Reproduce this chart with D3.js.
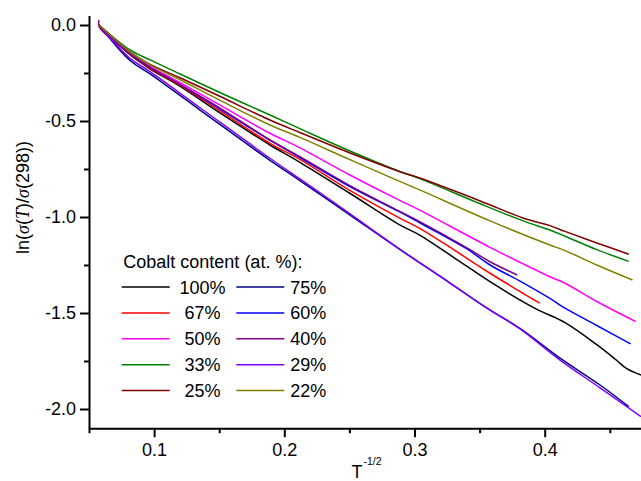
<!DOCTYPE html>
<html>
<head>
<meta charset="utf-8">
<script src="https://cdn.jsdelivr.net/npm/d3@7"></script>
<style>
  html, body { margin: 0; padding: 0; background: #fff; }
  svg { display: block; }
  text { font-family: Arial, "Liberation Sans", sans-serif; }
</style>
</head>
<body>
<svg id="chart" width="641" height="481"></svg>
<script>
// ---- data: [T^-1/2, ln(sigma(T)/sigma(298))] ----
const co100 = [[0.0577,0],[0.0815,-0.155],[0.0969,-0.228],[0.12,-0.32],[0.15,-0.455],[0.189,-0.625],[0.212,-0.715],[0.25,-0.875],[0.289,-1.042],[0.304,-1.094],[0.33,-1.21],[0.358,-1.337],[0.3926,-1.476],[0.4156,-1.55],[0.44,-1.665],[0.455,-1.745],[0.463,-1.79],[0.474,-1.823]];
const co75 = [[0.0577,0],[0.0815,-0.185],[0.0969,-0.255],[0.1353,-0.443],[0.189,-0.705],[0.212,-0.81],[0.2505,-0.99],[0.2889,-1.17],[0.3273,-1.344],[0.356,-1.476],[0.381,-1.58],[0.4118,-1.735],[0.4425,-1.875],[0.4646,-1.988]];
const co67 = [[0.0577,0],[0.0815,-0.15],[0.0969,-0.224],[0.12,-0.315],[0.15,-0.445],[0.189,-0.616],[0.212,-0.70],[0.25,-0.86],[0.289,-1.007],[0.304,-1.059],[0.33,-1.17],[0.358,-1.293],[0.3962,-1.449]];
const co60 = [[0.0577,0],[0.0815,-0.15],[0.0969,-0.22],[0.12,-0.31],[0.15,-0.435],[0.189,-0.60],[0.212,-0.69],[0.25,-0.84],[0.289,-0.975],[0.304,-1.03],[0.34,-1.165],[0.358,-1.25],[0.38,-1.33],[0.404,-1.424],[0.4156,-1.475],[0.44,-1.565],[0.466,-1.661]];
const co50 = [[0.0577,0],[0.0815,-0.145],[0.0969,-0.215],[0.12,-0.30],[0.15,-0.415],[0.189,-0.564],[0.212,-0.64],[0.25,-0.78],[0.289,-0.915],[0.304,-0.964],[0.358,-1.158],[0.404,-1.311],[0.4156,-1.345],[0.44,-1.44],[0.47,-1.545]];
const co40 = [[0.0577,0.026],[0.0579,-0.01],[0.0815,-0.15],[0.0969,-0.22],[0.12,-0.31],[0.15,-0.43],[0.189,-0.599],[0.212,-0.686],[0.25,-0.835],[0.289,-0.972],[0.304,-1.024],[0.34,-1.16],[0.358,-1.233],[0.3789,-1.302]];
const co33 = [[0.0577,0],[0.0815,-0.13],[0.0969,-0.182],[0.12,-0.255],[0.15,-0.35],[0.189,-0.469],[0.212,-0.54],[0.25,-0.655],[0.289,-0.764],[0.304,-0.80],[0.35,-0.93],[0.3833,-1.02],[0.404,-1.068],[0.4156,-1.10],[0.44,-1.17],[0.4646,-1.231]];
const co29 = [[0.0577,0],[0.0815,-0.174],[0.0969,-0.243],[0.1353,-0.431],[0.189,-0.694],[0.212,-0.802],[0.2505,-0.984],[0.2889,-1.168],[0.3273,-1.344],[0.356,-1.476],[0.381,-1.583],[0.4118,-1.745],[0.4425,-1.89],[0.474,-2.04]];
const co25 = [[0.0577,0],[0.0815,-0.14],[0.0969,-0.205],[0.12,-0.275],[0.15,-0.37],[0.189,-0.495],[0.212,-0.56],[0.25,-0.665],[0.289,-0.764],[0.304,-0.797],[0.35,-0.915],[0.3833,-1.005],[0.404,-1.045],[0.4156,-1.075],[0.44,-1.135],[0.4646,-1.194]];
const co22 = [[0.0577,0],[0.0815,-0.14],[0.0969,-0.208],[0.12,-0.285],[0.15,-0.39],[0.189,-0.521],[0.212,-0.585],[0.25,-0.70],[0.289,-0.816],[0.304,-0.859],[0.358,-1.02],[0.404,-1.146],[0.4156,-1.175],[0.44,-1.25],[0.4674,-1.328]];

const seriesNames = ["100%","75%","67%","60%","50%","40%","33%","29%","25%","22%"];
const seriesData = [co100, co75, co67, co60, co50, co40, co33, co29, co25, co22];
const seriesColors = ["#000000","#000080","#ff0000","#0000ff","#ff00ff","#800080","#008000","#8000ff","#800000","#808000"];

const xMajor = [0.1, 0.2, 0.3, 0.4];
const xMinor = [0.05, 0.15, 0.25, 0.35, 0.45];
const yMajor = [0.0, -0.5, -1.0, -1.5, -2.0];
const yMinor = [-0.25, -0.75, -1.25, -1.75];

// ---- layout ----
const svg = d3.select("#chart");
const x = d3.scaleLinear().domain([0.05, 0.48]).range([89, 89 + 0.43 * 1302]);
const y = d3.scaleLinear().domain([-2.1, 0.05]).range([25 + 2.1 * 192, 25 - 0.05 * 192]);
const fmt = v => v.toFixed(1);

// lines
const line = d3.line().x(d => x(d[0])).y(d => y(d[1])).curve(d3.curveCatmullRom.alpha(0.5));
svg.append("g").selectAll("path").data(seriesData).join("path")
  .attr("d", line)
  .attr("fill", "none")
  .attr("stroke", (d, i) => seriesColors[i])
  .attr("stroke-width", 1.5)
  .attr("stroke-linejoin", "round");

// axes
const xAxisY = y(-2.1);
const gx = svg.append("g").attr("transform", `translate(0,${xAxisY})`)
  .call(d3.axisBottom(x).tickValues(xMajor).tickFormat(fmt).tickSize(9).tickSizeOuter(0).tickPadding(6));
const gxm = svg.append("g").attr("transform", `translate(0,${xAxisY})`)
  .call(d3.axisBottom(x).tickValues(xMinor).tickFormat("").tickSize(5).tickSizeOuter(0));
gxm.select(".domain").remove();

const gy = svg.append("g").attr("transform", `translate(${x(0.05)},0)`)
  .call(d3.axisLeft(y).tickValues(yMajor).tickFormat(fmt).tickSize(9).tickSizeOuter(0).tickPadding(4));
const gym = svg.append("g").attr("transform", `translate(${x(0.05)},0)`)
  .call(d3.axisLeft(y).tickValues(yMinor).tickFormat("").tickSize(5).tickSizeOuter(0));
gym.select(".domain").remove();

svg.selectAll(".domain, .tick line").attr("stroke", "#000").attr("stroke-width", 2);
svg.selectAll(".tick text").attr("font-size", 18).attr("fill", "#000")
  .attr("font-family", "Arial, 'Liberation Sans', sans-serif");

// x label
const xl = svg.append("text").attr("x", 351.5).attr("y", 477.5).attr("font-size", 18).attr("fill", "#000");
xl.append("tspan").text("T");
xl.append("tspan").attr("font-size", 10.5).attr("dy", -13).attr("dx", 1).text("-1/2");

// y label
const yl = svg.append("text").attr("transform", "translate(29,197.5) rotate(-90)")
  .attr("text-anchor", "middle").attr("font-size", 18).attr("fill", "#000");
yl.append("tspan").text("ln(");
yl.append("tspan").attr("font-family", "'Liberation Serif', 'DejaVu Serif', serif").attr("font-style", "italic").text("σ");
yl.append("tspan").text("(");
yl.append("tspan").attr("font-family", "'Liberation Serif', 'DejaVu Serif', serif").attr("font-style", "italic").text("T");
yl.append("tspan").text(")/");
yl.append("tspan").attr("font-family", "'Liberation Serif', 'DejaVu Serif', serif").attr("font-style", "italic").text("σ");
yl.append("tspan").text("(298))");

// legend
const lg = svg.append("g");
lg.append("text").attr("x", 123.3).attr("y", 267.5).attr("font-size", 18).attr("fill", "#000")
  .text("Cobalt content (at. %):");
seriesNames.forEach((name, i) => {
  const col = i % 2, row = Math.floor(i / 2);
  const ly = 287 + row * 25.9;
  const x0 = col === 0 ? 121.7 : 236.3;
  lg.append("line").attr("x1", x0).attr("x2", x0 + 48).attr("y1", ly).attr("y2", ly)
    .attr("stroke", seriesColors[i]).attr("stroke-width", 1.5);
  const t = lg.append("text").attr("y", ly + 6.5).attr("font-size", 18).attr("fill", "#000").text(name);
  if (col === 0) t.attr("x", 202.5).attr("text-anchor", "middle");
  else t.attr("x", 290.3);
});
</script>
</body>
</html>
